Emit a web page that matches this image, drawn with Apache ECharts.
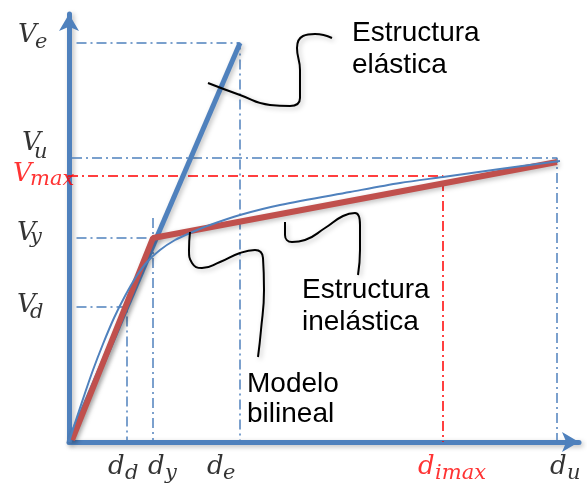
<!DOCTYPE html>
<html>
<head>
<meta charset="utf-8">
<script src="https://cdn.jsdelivr.net/npm/echarts@6/dist/echarts.min.js"></script>
<style>
  html, body { margin: 0; padding: 0; background: #fff; }
  #main { width: 587px; height: 488px; }
</style>
</head>
<body>
<div id="main"></div>
<script>
// displacement marks on the x axis (name_subscript)
const dispNames = ['d_d', 'd_y', 'd_e', 'd_imax', 'd_u'];
const dispValues = [11.6, 16.8, 34.2, 74.8, 97.6];
// shear marks on the y axis
const forceNames = ['V_e', 'V_u', 'V_max', 'V_y', 'V_d'];
const forceValues = [99.75, 71, 66.5, 51, 33.75];
const redNames = ['d_imax', 'V_max'];

// curves
const elastic = [[0, 0], [34.2, 99.75]];
const bilinear = [[0.6, 0.5], [16.8, 51], [97.6, 70]];
const capacity = [
  [0, 0], [1.4, 5.5], [3, 11.5], [4.8, 18], [6.8, 24.5], [9, 31], [11.2, 36.5],
  [13.4, 41.25], [15.6, 45], [18.2, 48], [21.2, 50.5], [24.2, 52.25], [28.2, 54.25],
  [34.2, 56.75], [42.2, 59.25], [56.2, 62.5], [66.2, 64.75], [74.8, 66.25],
  [86.2, 68.25], [98.2, 70.25]
];

// callout squiggles
const calloutElastic = [
  [27.8, 89.75], [34.2, 86.75], [40.2, 84.25], [44.2, 84], [46.2, 86],
  [46.2, 93], [45.6, 98.5], [46.8, 101.5], [49.2, 102], [52.6, 101]
];
const calloutBilinear = [
  [24.2, 52.5], [24, 48], [24.6, 44.75], [26.6, 43.5], [30.2, 45], [34.2, 47.25],
  [37.2, 48], [38.8, 46], [39, 38], [38.4, 28], [37.8, 21.25]
];
const calloutInelastic = [
  [43.2, 55], [43.2, 51.75], [44.6, 50], [47.2, 50.5], [51.2, 53.5], [54.8, 56.5],
  [57.2, 57.25], [58.2, 54.25], [58.2, 48], [57.8, 41.75]
];

const blue = '#4f81bd';
const red = '#c0504d';
const pure = '#ff0000';
const dashDot = [10, 4, 2, 4];

function val(names, values, n) { return values[names.indexOf(n)]; }
const dd = val(dispNames, dispValues, 'd_d');
const dy = val(dispNames, dispValues, 'd_y');
const de = val(dispNames, dispValues, 'd_e');
const dimax = val(dispNames, dispValues, 'd_imax');
const du = val(dispNames, dispValues, 'd_u');
const Ve = val(forceNames, forceValues, 'V_e');
const Vu = val(forceNames, forceValues, 'V_u');
const Vmax = val(forceNames, forceValues, 'V_max');
const Vy = val(forceNames, forceValues, 'V_y');
const Vd = val(forceNames, forceValues, 'V_d');

const g0 = 1.5; // guides start a bit right of the axis
const guides = [
  { data: [[g0, Ve], [de, Ve], [de, 0]], color: blue },
  { data: [[0.6, Vu], [du, Vu], [du, 0]], color: blue },
  { data: [[g0, Vy], [dy, Vy]], color: blue },
  { data: [[dy, 56], [dy, 0]], color: blue },
  { data: [[g0, Vd], [dd, Vd], [dd, 0]], color: blue },
  { data: [[-0.2, Vmax], [dimax, Vmax], [dimax, 0]], color: pure }
];

// label offsets (px) from the mark on the axis: [main letter, subscript]
const labelShift = {
  d_d: [[-19, 25], [-2, 32]],
  d_y: [[-5, 25], [12, 32]],
  d_e: [[-33, 25], [-17, 32]],
  d_imax: [[-25, 25], [-8, 32]],
  d_u: [[-7, 25], [10, 32]],
  V_e: [[-51, -8], [-34, 0]],
  V_u: [[-47, -15], [-35, -5]],
  V_max: [[-56, -2], [-39, 4]],
  V_y: [[-52, -5], [-39, 0]],
  V_d: [[-52, -2], [-39, 6]]
};

const mathFont = 'DejaVu Serif';
const mainItems = [];
const subItems = [];
function addLabel(n, point) {
  const p = n.split('_');
  const c = redNames.indexOf(n) >= 0 ? pure : '#000';
  mainItems.push({ value: point, label: { formatter: p[0], position: labelShift[n][0], color: c } });
  subItems.push({ value: point, label: { formatter: p[1], position: labelShift[n][1], color: c } });
}
dispNames.forEach((n, i) => addLabel(n, [dispValues[i], 0]));
forceNames.forEach((n, i) => addLabel(n, [0, forceValues[i]]));

const shadow = { shadowColor: 'rgba(0,0,0,0.25)', shadowBlur: 5, shadowOffsetX: 2, shadowOffsetY: 2 };

const series = [];
guides.forEach(g => {
  series.push({
    type: 'line', data: g.data, symbol: 'none', silent: true,
    lineStyle: { color: g.color, width: 1.5, type: dashDot }
  });
});
series.push({
  type: 'line', data: elastic, symbol: 'none',
  lineStyle: Object.assign({ color: blue, width: 5 }, shadow)
});
series.push({
  type: 'line', data: bilinear, symbol: 'none',
  lineStyle: Object.assign({ color: red, width: 6 }, shadow)
});
series.push({
  type: 'line', data: capacity, symbol: 'none', smooth: 0.3,
  lineStyle: { color: blue, width: 2 }
});
[calloutElastic, calloutBilinear, calloutInelastic].forEach(c => {
  series.push({
    type: 'line', data: c, symbol: 'none', smooth: 0.5,
    lineStyle: Object.assign({ color: '#000', width: 2 }, shadow)
  });
});
series.push({
  type: 'scatter', data: mainItems, symbolSize: 0, silent: true,
  label: { show: true, align: 'left', verticalAlign: 'middle', fontFamily: mathFont, fontStyle: 'italic', fontSize: 26 }
});
series.push({
  type: 'scatter', data: subItems, symbolSize: 0, silent: true,
  label: { show: true, align: 'left', verticalAlign: 'middle', fontFamily: mathFont, fontStyle: 'italic', fontSize: 21 }
});

const axisCommon = {
  type: 'value',
  axisLabel: { show: false },
  axisTick: { show: false },
  splitLine: { show: false },
  axisLine: {
    show: true,
    symbol: ['none', 'arrow'],
    symbolSize: [15, 17],
    lineStyle: Object.assign({ color: blue, width: 5 }, shadow)
  }
};

const textFont = 'Liberation Sans';
const option = {
  animation: false,
  grid: { left: 69, right: 8, top: 14, bottom: 46 },
  xAxis: Object.assign({ min: 0, max: 102 }, axisCommon),
  yAxis: Object.assign({ min: 0, max: 107 }, axisCommon),
  graphic: [
    { type: 'text', left: 352, top: 17, style: { text: 'Estructura\nelástica', fontFamily: textFont, fontSize: 28, lineHeight: 32, fill: '#000' } },
    { type: 'text', left: 302, top: 274, style: { text: 'Estructura\ninelástica', fontFamily: textFont, fontSize: 28, lineHeight: 32, fill: '#000' } },
    { type: 'text', left: 247, top: 369, style: { text: 'Modelo\nbilineal', fontFamily: textFont, fontSize: 28, lineHeight: 30, fill: '#000' } }
  ],
  series: series
};

const chart = echarts.init(document.getElementById('main'));
chart.setOption(option);
</script>
</body>
</html>
